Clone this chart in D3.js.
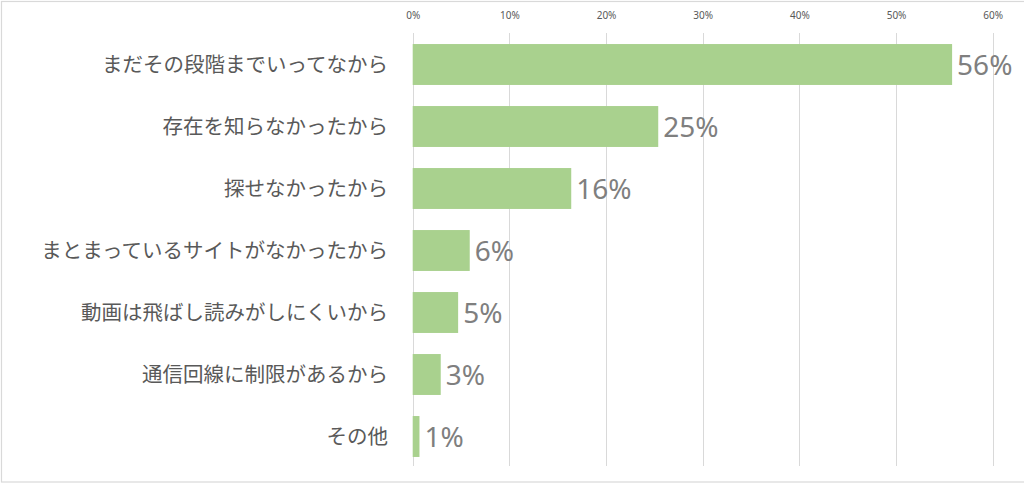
<!DOCTYPE html>
<html>
<head>
<meta charset="utf-8">
<script src="https://cdn.jsdelivr.net/npm/d3@7"></script>
<style>
  html, body { margin: 0; padding: 0; background: #fff; }
  svg { display: block; }
</style>
</head>
<body>
<div id="chart"></div>
<script>
const categories = [
  'まだその段階までいってなから',
  '存在を知らなかったから',
  '探せなかったから',
  'まとまっているサイトがなかったから',
  '動画は飛ばし読みがしにくいから',
  '通信回線に制限があるから',
  'その他',
]
const values = [0.558, 0.254, 0.164, 0.059, 0.047, 0.029, 0.007]
const valueLabels = ['56%', '25%', '16%', '6%', '5%', '3%', '1%']
const ticks = [0, 0.1, 0.2, 0.3, 0.4, 0.5, 0.6]

const W = 1024
const H = 485

const x = d3.scaleLinear().domain([0, 0.6]).range([412.7, 992.7])
const y = d3.scaleBand().domain(categories).range([33.5, 467.5]).paddingInner(0.34).paddingOuter(0.17)

const svg = d3.select('#chart').append('svg').attr('width', W).attr('height', H)

svg.append('rect').attr('width', W).attr('height', H).attr('fill', '#fff')

// chart frame
svg
  .append('rect')
  .attr('x', 1.5)
  .attr('y', 1.5)
  .attr('width', W + 2)
  .attr('height', 480.5)
  .attr('fill', 'none')
  .attr('stroke', '#d9d9d9')
  .attr('stroke-width', 1.2)

// gridlines
svg
  .append('g')
  .selectAll('line')
  .data(ticks)
  .join('line')
  .attr('x1', (d) => Math.round(x(d)) + 0.5)
  .attr('x2', (d) => Math.round(x(d)) + 0.5)
  .attr('y1', 33)
  .attr('y2', 466)
  .attr('stroke', '#d9d9d9')
  .attr('stroke-width', 1)

// top axis labels
const axis = d3
  .axisTop(x)
  .tickValues(ticks)
  .tickFormat(d3.format('.0%'))
  .tickSize(0)
  .tickPadding(0)

const ax = svg.append('g').attr('transform', 'translate(0, 19)').call(axis)
ax.select('.domain').remove()
ax.selectAll('text')
  .attr('fill', '#595959')
  .attr('font-family', '"Noto Sans", sans-serif')
  .attr('font-size', 10)

// bars
svg
  .append('g')
  .selectAll('rect')
  .data(values)
  .join('rect')
  .attr('x', x(0))
  .attr('y', (d, i) => y(categories[i]))
  .attr('width', (d) => x(d) - x(0))
  .attr('height', y.bandwidth())
  .attr('fill', '#a9d18e')

// value labels
svg
  .append('g')
  .selectAll('text')
  .data(values)
  .join('text')
  .attr('x', (d) => x(d) + 5)
  .attr('y', (d, i) => y(categories[i]) + y.bandwidth() / 2)
  .attr('dy', '0.36em')
  .attr('fill', '#7f7f7f')
  .attr('font-family', '"Noto Sans", sans-serif')
  .attr('font-size', 28)
  .text((d, i) => valueLabels[i])

// category labels
svg
  .append('g')
  .selectAll('text')
  .data(categories)
  .join('text')
  .attr('x', 388)
  .attr('y', (d) => y(d) + y.bandwidth() / 2)
  .attr('dy', '0.36em')
  .attr('text-anchor', 'end')
  .attr('fill', '#595959')
  .attr('font-family', '"Noto Sans CJK JP", sans-serif')
  .attr('font-size', 20.5)
  .text((d) => d)
</script>
</body>
</html>
